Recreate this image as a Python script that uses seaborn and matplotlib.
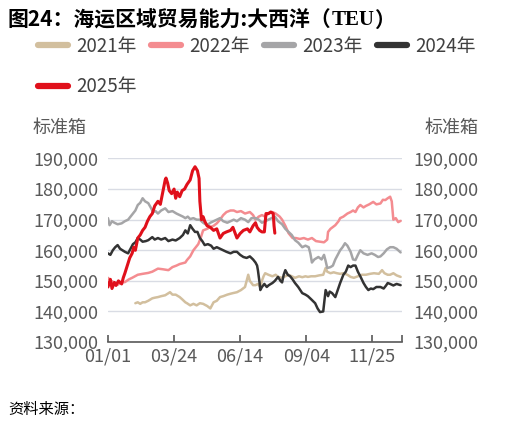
import matplotlib
matplotlib.use("Agg")
import matplotlib.pyplot as plt
import seaborn as sns
import pandas as pd

sns.set_theme(style="white")
plt.rcParams["font.family"] = ["Noto Sans CJK SC", "DejaVu Sans"]

# day of year (0 = 01/01) and values in thousand TEU
days_2021 = [34, 37, 40, 43, 46, 50, 55, 58, 62, 66, 71, 74, 77, 80, 84, 89, 92, 96, 98, 102,
             106, 110, 114, 118, 123, 127, 131, 135, 139, 143, 148, 152, 155, 160, 165, 170, 172,
             174, 176, 180, 183, 186, 189, 191, 193, 195, 199, 204, 208, 211, 216, 220, 224, 228,
             232, 237, 241, 245, 248, 252, 257, 262, 267, 270, 272, 276, 280, 284, 288, 292, 297,
             301, 305, 310, 315, 320, 325, 330, 336, 340, 343, 347, 350, 354, 358, 363]
vals_2021 = [142.7, 143, 142.5, 143, 143, 143.5, 144.3, 144.5, 144.7, 145, 145.3, 145.8, 146.3,
             145.5, 145.5, 144.7, 144, 143, 142.7, 142, 142.5, 142, 142.7, 142.5, 141.8, 141, 143,
             143.5, 144.7, 145, 145.5, 145.8, 146, 146.3, 147, 148, 150, 152, 150, 148.6, 148.6,
             149, 148, 150, 151.5, 152.5, 152, 151.5, 152, 151.3, 151, 151.5, 152, 151.5, 151,
             151.5, 151.2, 151.5, 151.3, 151.5, 151.5, 151.8, 152, 154.2, 153, 152.5, 152.8, 152.5,
             152.3, 152.5, 152, 151.3, 151, 151.5, 152, 152, 152.3, 152.5, 152.3, 153.5, 152.5,
             152, 152, 152.5, 151.8, 151.3]

days_2022 = [0, 4, 8, 12, 16, 21, 26, 30, 37, 43, 50, 55, 62, 68, 75, 80, 85, 89, 96, 98, 102,
             106, 112, 115, 118, 123, 127, 131, 135, 139, 143, 147, 152, 156, 160, 165, 170, 176,
             180, 183, 187, 191, 195, 199, 204, 208, 213, 216, 220, 224, 229, 233, 238, 243, 248,
             253, 258, 263, 268, 272, 273, 276, 282, 286, 288, 292, 297, 301, 304, 307, 310, 313,
             317, 320, 324, 329, 333, 338, 341, 344, 347, 350, 352, 354, 357, 360, 363]
vals_2022 = [151, 150, 149.5, 148.7, 149.5, 149.6, 150.5, 151, 152, 152.3, 152.6, 153, 154, 153.8,
             153.5, 154.5, 155, 155.5, 156, 156.8, 158, 160, 162, 164, 166.5, 167, 167.6, 168,
             168.8, 170, 171.5, 172.5, 173, 173, 172.5, 172.8, 172, 172.5, 171.5, 170, 171, 171.5,
             171, 172, 172.5, 172, 171, 170, 168, 165.6, 164, 164, 163.7, 164, 163.5, 164, 163,
             162.8, 162.6, 163.5, 166, 167, 168.2, 169.5, 170.5, 171, 172, 172.5, 173, 172.5, 174,
             174.8, 174, 174.5, 175, 175.8, 175, 175.3, 176.5, 176.4, 177, 177.5, 176, 170, 170.5,
             169.2, 169.6]

days_2023 = [0, 2, 5, 8, 12, 17, 21, 25, 28, 31, 34, 37, 40, 43, 46, 50, 53, 56, 59, 62, 66, 71,
             75, 80, 85, 89, 93, 96, 99, 102, 106, 110, 114, 118, 123, 127, 131, 135, 139, 143,
             148, 152, 156, 160, 165, 170, 174, 178, 183, 187, 191, 195, 199, 203, 207, 211, 216,
             220, 224, 228, 232, 236, 241, 245, 249, 251, 253, 256, 261, 265, 268, 270, 272, 276,
             279, 282, 285, 288, 291, 294, 297, 301, 304, 307, 310, 313, 317, 322, 327, 331, 335,
             338, 342, 346, 350, 354, 358, 363]
vals_2023 = [170.5, 168.2, 169.5, 169, 168.5, 168.8, 169.5, 170, 171, 172, 173, 174.8, 175.5, 177,
             176, 175.4, 174, 172.5, 172.8, 172, 173, 173.7, 172.5, 172.8, 172, 171.5, 171, 170.5,
             171, 170.2, 170.5, 170, 170, 169, 168.2, 169, 169.5, 170, 170.5, 169.5, 169, 169.5,
             170, 169.5, 170.5, 170, 169.2, 170.5, 170.5, 170, 169, 169.5, 170, 170.5, 171, 169.5,
             168.5, 167, 166, 165, 163.3, 162.5, 161, 161.5, 161, 159, 156, 157, 157.8, 157, 158.5,
             156.5, 154.2, 154.5, 155, 157, 158.5, 160, 161, 162.3, 161.5, 159.5, 157, 156.8,
             158.5, 160, 159, 158.5, 159, 158.5, 157.8, 158, 159, 160.3, 161, 161, 160.5, 159.3]

days_2024 = [0, 3, 6, 9, 12, 15, 18, 21, 25, 28, 31, 34, 37, 40, 43, 47, 50, 55, 58, 62, 66, 71,
             75, 80, 84, 89, 93, 96, 99, 102, 105, 108, 111, 114, 117, 120, 124, 128, 131, 135,
             139, 143, 147, 152, 156, 160, 164, 168, 172, 176, 180, 183, 185, 186, 188, 189, 191,
             194, 197, 199, 202, 204, 207, 211, 214, 216, 218, 220, 223, 226, 229, 232, 236, 241,
             245, 248, 252, 257, 260, 263, 267, 270, 273, 275, 278, 282, 285, 288, 292, 295, 298,
             301, 304, 307, 310, 313, 317, 320, 323, 326, 329, 333, 338, 342, 345, 347, 350, 354,
             358, 363]
vals_2024 = [159, 158.5, 160, 161, 161.7, 160.5, 160, 159.5, 159, 160.5, 162, 162.6, 164, 163.5,
             162.8, 163, 163.3, 164.3, 163.5, 164, 163.5, 164, 163, 163.5, 163.2, 164, 165, 166.5,
             165.5, 168.2, 167, 166, 166, 164, 163, 161.7, 162, 161.5, 160.5, 161, 160.5, 160,
             159.5, 159, 159.5, 159.5, 158.5, 157.8, 157.5, 158, 157, 156, 155, 153.5, 149.5, 147,
             148, 149, 148, 148.5, 149, 149.3, 150, 151.3, 150, 149.5, 152, 153.5, 152, 151.5,
             150.5, 149.3, 148, 146, 145.5, 145, 144, 142.7, 141, 139.8, 140, 147, 145, 146.5,
             146, 144.7, 147, 149.3, 152, 153, 155, 154.5, 155, 155, 153, 151.5, 149.3, 148, 147,
             147.5, 147.3, 148, 148, 147.5, 148.5, 149.3, 149, 148.5, 149, 148.6]

days_2025 = [0, 3, 5, 8, 10, 13, 17, 19, 21, 24, 27, 30, 32, 34, 37, 40, 43, 46, 49, 52, 55, 58,
             62, 65, 68, 71, 72, 74, 76, 79, 82, 84, 86, 89, 92, 95, 98, 102, 105, 108, 111, 113,
             114, 116, 118, 120, 123, 127, 131, 135, 139, 143, 147, 152, 155, 160, 164, 168, 173,
             176, 180, 183, 185, 188, 191, 194, 196, 199, 202, 205, 206, 207]
vals_2025 = [148, 150.5, 147.5, 149.5, 148.5, 150, 149, 151, 152.5, 155, 157.5, 159, 161, 160,
             164, 165, 166.5, 167.5, 169.5, 171, 172, 174.5, 176, 175, 179, 183, 183.6, 182,
             179.5, 178.5, 180, 177, 179, 177.5, 179.5, 180, 181.5, 183, 186, 187.3, 186, 183.5,
             176, 170, 171, 169.5, 168, 167.5, 166.5, 167, 164, 165.5, 166, 166.5, 167.5, 164,
             165.5, 166.5, 167, 166, 168, 169, 167.5, 166.5, 166, 166, 172, 172, 172.5, 172, 168,
             165.6]

years = ["2021年", "2022年", "2023年", "2024年", "2025年"]
colors = ["#D2BF9E", "#F48C90", "#A5A5A7", "#333333", "#E0101B"]
widths = [1.8, 1.8, 1.8, 1.8, 2.2]

x_ticks = [0, 82, 164, 246, 328]
x_ticklabels = ["01/01", "03/24", "06/14", "09/04", "11/25"]
y_ticks = [130000, 140000, 150000, 160000, 170000, 180000, 190000]

frames = []
for yr, d, v in zip(years, [days_2021, days_2022, days_2023, days_2024, days_2025],
                    [vals_2021, vals_2022, vals_2023, vals_2024, vals_2025]):
    frames.append(pd.DataFrame({"day": d, "teu": [x * 1000 for x in v], "year": yr}))
df = pd.concat(frames, ignore_index=True)

fig = plt.figure(figsize=(5.19, 4.26), dpi=100)
ax = fig.add_axes([0.208, 0.197, 0.567, 0.431])

for yr, c, lw in zip(years, colors, widths):
    sns.lineplot(data=df[df.year == yr], x="day", y="teu", color=c, lw=lw, ax=ax,
                 label=yr, legend=False)

ax.set_xlim(0, 365)
ax.set_ylim(130000, 190000)
ax.set_yticks(y_ticks)
ax.set_yticklabels([f"{t:,}" for t in y_ticks])
ax.set_xticks(x_ticks + [365])
ax.set_xticklabels(x_ticklabels + [""])
ax.grid(axis="y", color="#D9DCE4", lw=1.0)
ax.set_axisbelow(True)
for s in ["top", "left", "right"]:
    ax.spines[s].set_visible(False)
ax.spines["bottom"].set_color("#595959")
ax.spines["bottom"].set_linewidth(1.2)
ax.tick_params(axis="x", direction="in", length=5, width=1.2, color="#595959",
               labelsize=13, labelcolor="#595959", pad=4, bottom=True)
ax.tick_params(axis="y", length=0, labelsize=13, labelcolor="#595959", pad=7)
ax.set_xlabel("")
ax.set_ylabel("")

ax2 = ax.twinx()
ax2.set_ylim(ax.get_ylim())
ax2.set_yticks(y_ticks)
ax2.set_yticklabels([f"{t:,}" for t in y_ticks])
ax2.tick_params(axis="y", length=0, labelsize=13, labelcolor="#595959", pad=8)
for s in ax2.spines.values():
    s.set_visible(False)
ax2.grid(False)

# legend fills column by column: put 2025 under 2021
handles, labels = ax.get_legend_handles_labels()
order = [0, 4, 1, 2, 3]
fig.legend([handles[i] for i in order], [labels[i] for i in order], loc="upper left",
           bbox_to_anchor=(0.073, 0.916), ncol=4, frameon=False, fontsize=13.5,
           handlelength=1.6, handletextpad=0.45, columnspacing=0.75, labelspacing=1.05,
           borderaxespad=0, borderpad=0, labelcolor="#404040")
for h in fig.legends[0].get_lines():
    h.set_linewidth(4.5)

fig.text(0.062, 0.700, "标准箱", fontsize=13, color="#595959", va="center")
fig.text(0.818, 0.700, "标准箱", fontsize=13, color="#595959", va="center")

# title in pieces so that TEU can be set in a serif face
t1 = fig.text(0.015, 0.953, "图24：海运区域贸易能力:大西洋（", fontsize=15,
              fontweight="bold", color="black", va="center")
fig.canvas.draw()
bb = t1.get_window_extent()
t2 = fig.text(bb.x1 / fig.bbox.width, 0.953, "TEU", fontsize=15, fontweight="bold",
              family="Liberation Serif", color="black", va="center")
fig.canvas.draw()
bb2 = t2.get_window_extent()
fig.text(bb2.x1 / fig.bbox.width, 0.953, "）", fontsize=15, fontweight="bold",
         color="black", va="center")

fig.text(0.015, 0.038, "资料来源：", fontsize=11, style="italic", color="black", va="center")

fig.savefig("out.png", dpi=100)
